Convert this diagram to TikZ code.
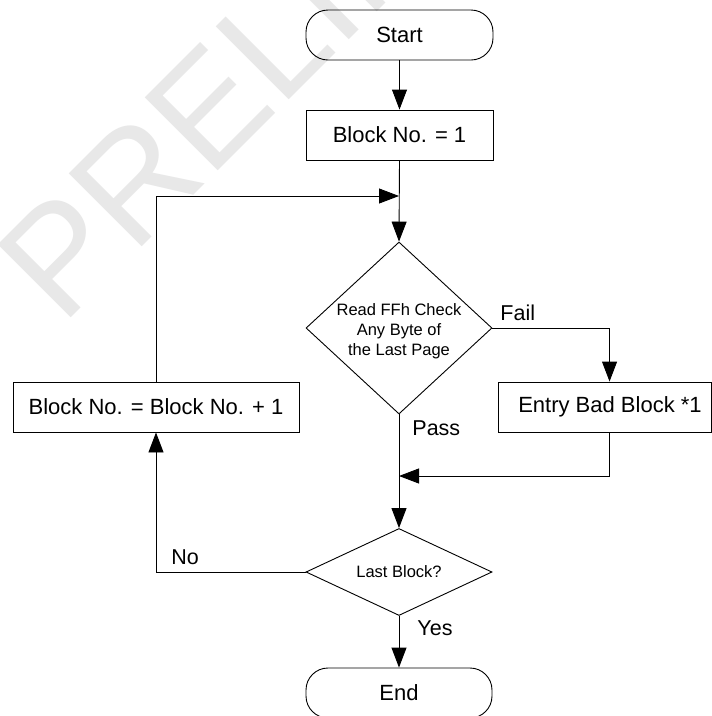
\documentclass[tikz,border=0pt]{standalone}
\usepackage{fontspec}
\setmainfont{Liberation Sans}
\usetikzlibrary{arrows.meta,shapes.geometric}
\definecolor{wmgray}{RGB}{232,232,232}
\begin{document}
\begin{tikzpicture}[x=1pt,y=-1pt,
  line width=0.9pt,
  flow/.style={draw=black, line width=0.9pt, -{Triangle[length=20pt,width=15pt]}},
  procbox/.style={draw=black, rectangle, minimum height=50pt, inner sep=0pt,
    font=\fontsize{22}{26}\selectfont},
  termbox/.style={procbox, rounded corners=22pt},
  decision/.style={draw=black, diamond, inner sep=0pt},
  dtext/.style={inner sep=0pt, align=center, font=\fontsize{16.5}{20}\selectfont},
  tag/.style={inner sep=0pt, anchor=base west, font=\fontsize{21.5}{26}\selectfont}]

\useasboundingbox (0,0) rectangle (712,716);
\fill[white] (0,0) rectangle (712,716);

% watermark
\begin{scope}
  \clip (0,0) rectangle (712,716);
  \node[rotate=45, anchor=base west, inner sep=0pt, text=wmgray,
        font=\fontsize{150}{150}\selectfont] (wm) at (62,327) {PRELIMINARY};
\end{scope}

% nodes
\node[termbox, minimum width=187pt] (start) at (399.5,35) {Start};
\node[procbox, minimum width=187pt] (b1) at (399.5,135) {Block No. = 1};
\node[decision, minimum width=186pt, minimum height=172pt] (d1) at (399,328) {};
\node[dtext] (d1t) at (399,331) {Read FFh Check\\Any Byte of\\the Last Page};
\node[procbox, minimum width=286pt] (inc) at (156,407) {Block No. = Block No. + 1};
\node[procbox, minimum width=213pt] (bad) at (604.5,407) {\hspace*{11pt}Entry Bad Block *1};
\node[decision, minimum width=186pt, minimum height=87pt] (d2) at (399,572) {};
\node[dtext] (d2t) at (399,572) {Last Block?};
\node[termbox, minimum width=186pt] (end) at (399,693) {End};

\coordinate (j1) at (399,196);
\coordinate (j2) at (399,476);

% connectors
\draw[flow] (start.south) -- (b1.north);
\draw[flow] (b1.south) -- (d1.north);
\draw[flow] (inc.north) |- (j1);
\draw[flow] (d1.east) -| ([xshift=112pt]bad.north west);
\draw[flow] (d1.south) -- (d2.north);
\draw[flow] ([xshift=112pt]bad.south west) |- (j2);
\draw[flow] (d2.west) -| (inc.south);
\draw[flow] (d2.south) -- (end.north);

% branch labels
\node[tag] (lfail) at (500,320) {Fail};
\node[tag] (lpass) at (412,435) {Pass};
\node[tag] (lno) at (171,564) {No};
\node[tag] (lyes) at (417,635) {Yes};
\end{tikzpicture}
\end{document}
